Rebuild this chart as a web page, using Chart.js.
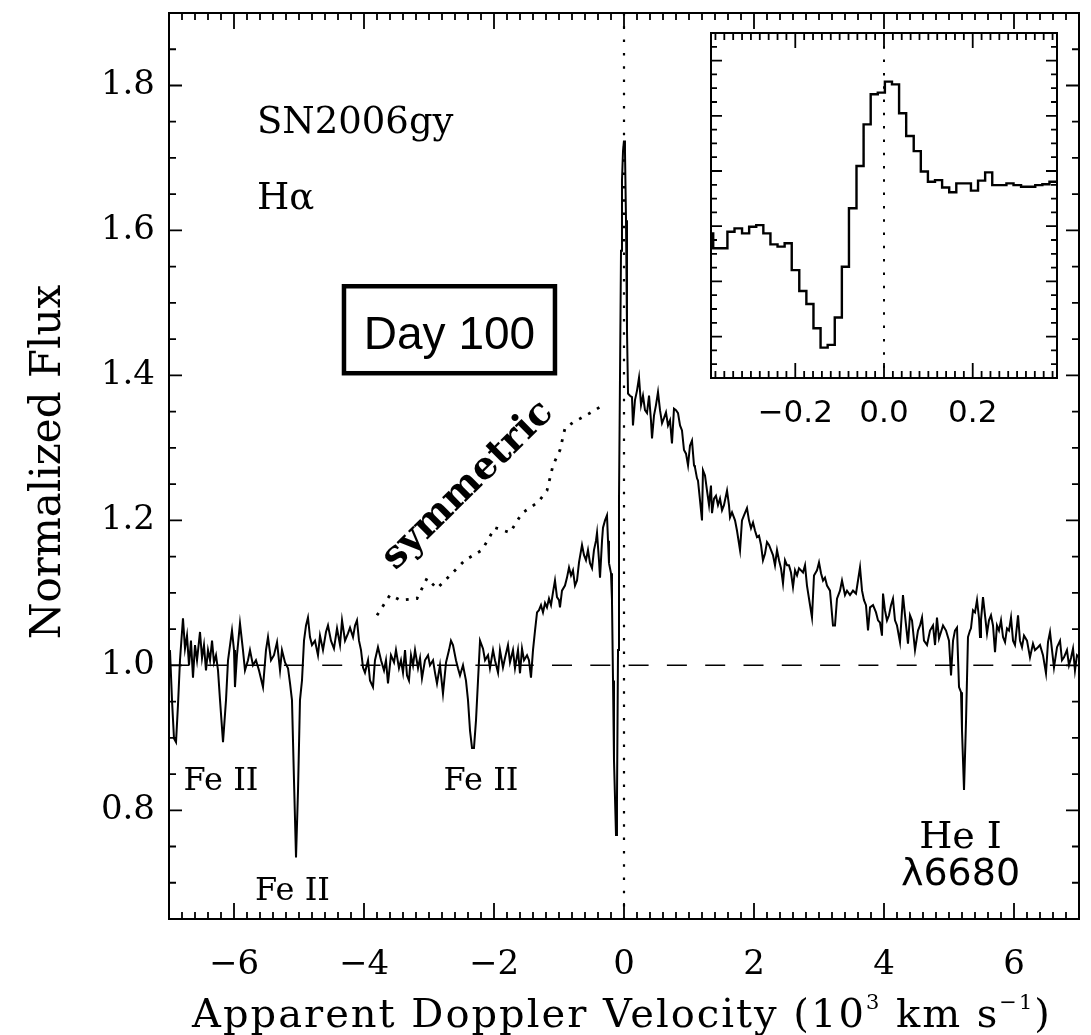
<!DOCTYPE html>
<html>
<head>
<meta charset="utf-8">
<title>SN2006gy H-alpha, day 100</title>
<script src="https://cdn.jsdelivr.net/npm/chart.js@4.4.1/dist/chart.umd.min.js"></script>
<style>
  body { margin: 0; background: #fff; }
  #wrap { position: relative; width: 1091px; height: 1035px; }
  #main { position: absolute; left: 0; top: 0; }
  #inset { position: absolute; left: 690px; top: 20px; }
</style>
</head>
<body>
<div id="wrap">
  <canvas id="main" width="1091" height="1035"></canvas>
  <canvas id="inset" width="380" height="420"></canvas>
</div>
<script>
// === Data ===
// main spectrum: velocity in 10^3 km/s, normalized flux
const velocity = [
  -6.985,-6.954,-6.923,-6.892,-6.862,-6.831,-6.785,-6.754,-6.723,-6.692,
  -6.662,-6.631,-6.600,-6.569,-6.523,-6.492,-6.462,-6.431,-6.400,-6.369,
  -6.338,-6.308,-6.277,-6.246,-6.215,-6.169,-6.123,-6.092,-6.031,-6.000,
  -5.985,-5.954,-5.908,-5.862,-5.831,-5.785,-5.754,-5.708,-5.662,-5.615,
  -5.554,-5.508,-5.477,-5.431,-5.385,-5.338,-5.292,-5.262,-5.215,-5.169,
  -5.138,-5.108,-5.077,-5.046,-5.015,-4.985,-4.954,-4.923,-4.892,-4.862,
  -4.831,-4.800,-4.754,-4.708,-4.677,-4.631,-4.585,-4.554,-4.508,-4.462,
  -4.415,-4.369,-4.338,-4.292,-4.246,-4.215,-4.169,-4.138,-4.108,-4.077,
  -4.046,-4.015,
  -3.985,-3.938,-3.908,-3.862,-3.831,-3.785,-3.738,-3.692,-3.662,-3.631,
  -3.585,-3.538,-3.508,-3.462,-3.431,-3.400,-3.369,-3.338,-3.308,-3.277,
  -3.246,-3.215,-3.169,-3.138,-3.108,-3.062,-3.015,-2.985,-2.938,-2.908,
  -2.877,-2.831,-2.785,-2.738,-2.692,-2.662,-2.631,-2.585,-2.554,-2.523,
  -2.477,-2.431,-2.400,-2.369,-2.338,-2.308,-2.277,-2.246,-2.215,-2.169,
  -2.138,-2.092,-2.062,-2.015,-1.985,-1.938,-1.908,-1.862,-1.831,-1.785,
  -1.754,-1.708,-1.677,-1.631,-1.600,-1.569,-1.538,-1.492,-1.462,-1.431,
  -1.400,-1.369,-1.338,
  -1.308,-1.277,-1.246,-1.215,-1.185,-1.154,-1.123,-1.092,-1.062,-1.031,
  -1.000,-0.985,-0.954,-0.908,-0.877,-0.846,-0.815,-0.785,-0.754,-0.723,
  -0.692,-0.646,-0.615,-0.585,-0.554,-0.523,-0.492,-0.462,-0.431,-0.415,
  -0.385,-0.369,-0.338,-0.323,-0.292,-0.262,-0.246,-0.231,-0.200,-0.185,
  -0.169,-0.154,-0.123,
  -0.108,-0.092,-0.077,-0.062,-0.046,-0.031,-0.015,0.000,0.015,0.031,
  0.046,0.062,0.092,0.123,0.138,0.169,0.200,0.231,0.262,0.292,
  0.323,0.354,0.385,0.415,0.431,0.462,0.492,0.523,0.554,0.585,
  0.615,0.646,0.677,0.708,0.738,0.769,0.800,0.831,0.862,0.892,
  0.923,0.954,0.985,1.015,1.046,1.077,1.092,1.123,1.138,1.169,
  1.200,1.215,1.246,1.277,1.308,1.338,1.354,1.385,1.415,1.446,
  1.477,1.508,1.538,1.585,1.615,1.631,1.662,1.708,1.738,1.785,
  1.815,1.846,1.892,1.923,1.954,1.985,2.015,2.046,2.077,2.108,
  2.138,2.169,2.200,2.231,2.262,2.292,2.323,2.354,2.385,2.415,
  2.446,2.477,2.508,2.538,2.569,2.600,2.631,2.662,2.692,2.723,
  2.754,2.785,2.815,2.862,2.892,2.923,2.969,3.000,3.031,3.062,
  3.092,3.123,3.169,3.215,3.246,3.277,3.323,3.354,3.400,3.431,
  3.477,3.523,3.569,3.600,3.631,3.662,3.692,3.723,3.754,3.785,
  3.831,3.877,3.908,3.938,3.969,3.985,4.015,4.046,4.077,4.108,
  4.138,4.169,4.200,4.246,4.292,4.323,4.369,4.400,4.431,4.477,
  4.523,4.554,4.585,4.615,4.662,4.708,4.754,4.785,4.815,4.846,
  4.877,4.908,4.954,5.000,5.031,5.062,5.092,5.123,5.154,5.185,
  5.200,5.231,5.262,5.292,5.323,5.338,5.369,5.400,5.431,5.462,
  5.477,5.492,5.523,5.554,5.585,5.615,5.646,5.677,5.708,5.738,
  5.769,5.800,5.831,5.862,5.892,5.923,5.954,5.985,6.015,6.062,
  6.092,6.123,6.154,6.200,6.246,6.292,6.323,6.369,6.400,6.446,
  6.492,6.523,6.554,6.585,6.615,6.662,6.708,6.738,6.769,6.815,
  6.846,6.877,6.908,6.938,6.969,7.000
];
const flux = [
  1.021,0.952,0.899,0.894,0.945,1.007,1.065,1.023,1.041,1.000,
  1.034,0.983,1.028,1.007,1.046,1.010,1.028,0.993,1.021,1.007,
  1.034,1.004,1.014,0.993,0.952,0.894,0.952,1.007,1.048,1.021,
  0.970,1.014,1.058,1.021,0.993,1.007,1.021,1.000,1.007,0.993,
  0.970,1.021,1.039,1.007,1.014,1.032,0.993,1.021,1.004,0.996,
  0.975,0.952,0.841,0.735,0.828,0.952,0.979,1.034,1.055,1.066,
  1.039,1.028,1.034,1.014,1.041,1.021,1.046,1.055,1.034,1.023,
  1.051,1.028,1.062,1.034,1.044,1.052,1.039,1.055,1.062,1.034,
  1.021,0.997,
  0.990,1.007,0.979,0.970,1.007,1.025,1.007,0.993,1.007,0.975,
  1.014,1.004,1.021,0.996,1.007,0.990,1.021,0.986,0.979,1.014,
  1.000,1.021,0.996,1.010,0.982,1.007,1.014,1.000,1.007,0.990,
  0.975,1.000,0.961,1.004,1.021,1.034,1.028,1.007,0.996,0.986,
  1.000,0.979,0.952,0.910,0.886,0.886,0.924,0.979,1.034,1.023,
  1.007,1.014,0.996,1.021,1.007,0.990,1.021,0.997,1.010,1.028,
  1.004,1.021,0.996,1.021,0.989,1.023,1.007,1.014,1.007,0.983,
  1.021,1.048,1.073,
  1.076,1.083,1.073,1.086,1.080,1.092,1.083,1.101,1.117,1.094,
  1.090,1.080,1.103,1.110,1.121,1.135,1.124,1.131,1.110,1.117,
  1.142,1.166,1.152,1.145,1.159,1.141,1.134,1.159,1.172,1.183,
  1.145,1.121,1.172,1.190,1.200,1.207,1.172,1.141,1.127,1.090,
  0.979,0.869,0.766,
  0.814,1.021,1.228,1.393,1.572,1.669,1.710,1.724,1.710,1.614,
  1.462,1.375,1.372,1.370,1.331,1.366,1.379,1.397,1.359,1.372,
  1.352,1.348,1.372,1.338,1.313,1.345,1.359,1.377,1.352,1.334,
  1.341,1.349,1.331,1.338,1.306,1.354,1.352,1.348,1.331,1.324,
  1.297,1.292,1.276,1.303,1.310,1.276,1.273,1.258,1.255,1.228,
  1.200,1.269,1.262,1.241,1.221,1.248,1.210,1.230,1.234,1.221,
  1.230,1.214,1.221,1.241,1.221,1.204,1.211,1.200,1.186,1.159,
  1.200,1.207,1.217,1.200,1.189,1.197,1.186,1.177,1.179,1.166,
  1.145,1.154,1.170,1.166,1.159,1.152,1.138,1.159,1.145,1.134,
  1.113,1.145,1.138,1.138,1.128,1.108,1.131,1.124,1.134,1.131,
  1.128,1.138,1.110,1.083,1.066,1.124,1.131,1.142,1.127,1.117,
  1.121,1.110,1.103,1.055,1.055,1.092,1.103,1.117,1.097,1.103,
  1.097,1.103,1.099,1.117,1.135,1.103,1.090,1.083,1.048,1.080,
  1.083,1.073,1.062,1.059,1.041,1.099,1.076,1.062,1.069,1.083,
  1.092,1.062,1.055,1.032,1.097,1.069,1.030,1.069,1.062,1.021,
  1.048,1.055,1.066,1.034,1.028,1.048,1.055,1.028,1.066,1.037,
  1.046,1.055,1.048,1.034,0.986,1.034,1.048,1.052,0.970,0.963,
  0.910,0.828,0.924,1.039,1.048,1.051,1.076,1.073,1.090,1.065,
  1.039,1.062,1.094,1.069,1.044,1.062,1.069,1.055,1.018,1.055,
  1.048,1.062,1.039,1.032,1.051,1.048,1.066,1.034,1.028,1.069,
  1.034,1.025,1.041,1.034,1.011,1.030,1.021,1.025,1.028,1.014,
  0.989,1.032,1.046,1.021,0.997,1.025,1.034,1.007,1.011,1.021,
  1.000,1.010,1.023,0.993,1.014,1.011
];

// red wing mirrored onto the blue side ("symmetric", dotted)
const symVelocity = [-3.800,-3.600,-3.446,-3.185,-3.031,-2.877,-2.677,-2.446,-2.185,-1.985,
                     -1.754,-1.569,-1.323,-1.185,-1.092,-0.985,-0.908,-0.785,-0.523,-0.323];
const symFlux = [1.069,1.097,1.090,1.092,1.120,1.106,1.124,1.145,1.159,1.190,
                 1.183,1.210,1.225,1.241,1.276,1.297,1.327,1.335,1.348,1.359];

// inset: binned narrow P-Cygni profile, bin left edges + last right edge
const insetEdges = [-0.390,
  -0.385,-0.369,-0.353,-0.337,-0.320,-0.304,-0.288,-0.272,-0.256,-0.240,
  -0.224,-0.208,-0.191,-0.175,-0.159,-0.143,-0.127,-0.111,-0.095,-0.079,
  -0.062,-0.046,-0.030,-0.014,0.002,0.018,0.034,0.050,0.067,0.083,
  0.099,0.115,0.131,0.147,0.163,0.180,0.196,0.212,0.228,0.244,
  0.260,0.276,0.292,0.309,0.325,0.341,0.357,0.373,0.389];
const insetFlux = [1.174,
  1.120,1.120,1.180,1.192,1.174,1.198,1.204,1.174,1.134,1.126,
  1.138,1.041,0.965,0.918,0.830,0.760,0.770,0.869,1.053,1.265,
  1.418,1.569,1.678,1.684,1.724,1.714,1.609,1.527,1.472,1.398,
  1.361,1.367,1.340,1.323,1.355,1.355,1.329,1.365,1.395,1.349,
  1.349,1.355,1.349,1.343,1.343,1.349,1.352,1.361];

// tick labels
const velocityTicks = [-6, -4, -2, 0, 2, 4, 6];
const fluxTicks = [0.8, 1.0, 1.2, 1.4, 1.6, 1.8];
const insetTicks = [-0.2, 0.0, 0.2];

// === Helpers ===
const SERIF = '"DejaVu Serif", serif';
const SANS = '"DejaVu Sans", sans-serif';
Chart.defaults.color = '#000';
Chart.defaults.font.family = SERIF;

function fmt(v, digits) {
  const s = Math.abs(v).toFixed(digits);
  return (v < -1e-9 ? '\u2212' : '') + s;
}

function pairs(xs, ys) {
  const n = Math.min(xs.length, ys.length);
  const out = [];
  for (let i = 0; i < n; i++) out.push({ x: xs[i], y: ys[i] });
  return out;
}

function eachTick(min, max, step, every, fn) {
  const k0 = Math.ceil(min / step - 1e-6), k1 = Math.floor(max / step + 1e-6);
  for (let k = k0; k <= k1; k++) fn(k * step, k % every === 0);
}

// === Frame with inward ticks on all four sides (IDL style) ===
const axisBox = {
  id: 'axisBox',
  afterDatasetsDraw(chart, args, o) {
    const { ctx, chartArea: a, scales: { x, y } } = chart;
    ctx.save();
    ctx.strokeStyle = '#000';
    ctx.lineWidth = o.tickWidth;
    ctx.beginPath();
    eachTick(x.min, x.max, o.xMinor, o.xEvery, (v, major) => {
      const p = x.getPixelForValue(v), len = major ? o.xMajorLen : o.xMinorLen;
      ctx.moveTo(p, a.bottom); ctx.lineTo(p, a.bottom - len);
      ctx.moveTo(p, a.top); ctx.lineTo(p, a.top + len);
    });
    eachTick(y.min, y.max, o.yMinor, o.yEvery, (v, major) => {
      const p = y.getPixelForValue(v), len = major ? o.yMajorLen : o.yMinorLen;
      ctx.moveTo(a.left, p); ctx.lineTo(a.left + len, p);
      ctx.moveTo(a.right, p); ctx.lineTo(a.right - len, p);
    });
    ctx.stroke();
    ctx.lineWidth = o.frameWidth;
    ctx.strokeRect(a.left, a.top, a.right - a.left, a.bottom - a.top);
    ctx.restore();
  }
};

// === Text annotations for the main panel ===
const notes = [
  { text: 'SN2006gy', x: -5.646, y: 1.735, font: '37px ' + SERIF, align: 'left' },
  { text: 'H\u03B1', x: -5.646, y: 1.630, font: '37px ' + SERIF, align: 'left' },
  { text: 'Fe II', x: -6.2, y: 0.828, font: '32px ' + SERIF, align: 'center' },
  { text: 'Fe II', x: -5.1, y: 0.676, font: '32px ' + SERIF, align: 'center' },
  { text: 'Fe II', x: -2.2, y: 0.828, font: '32px ' + SERIF, align: 'center' },
  { text: 'He I', x: 5.177, y: 0.748, font: '38px ' + SERIF, align: 'center' },
  { text: '\u03BB6680', x: 5.177, y: 0.697, font: '38px ' + SANS, align: 'center' }
];
const dayBox = { x0: -4.308, x1: -1.062, y0: 1.403, y1: 1.523, textY: 1.437, text: 'Day 100' };
const symLabel = { text: 'symmetric', x: -2.4, y: 1.248, angle: -44.6 };

const annotate = {
  id: 'annotate',
  afterDraw(chart) {
    const { ctx, scales: { x, y }, chartArea: a } = chart;
    const X = v => x.getPixelForValue(v), Y = v => y.getPixelForValue(v);
    ctx.save();
    ctx.fillStyle = '#000';
    ctx.strokeStyle = '#000';
    ctx.textBaseline = 'alphabetic';

    notes.forEach(n => {
      ctx.font = n.font;
      ctx.textAlign = n.align;
      ctx.fillText(n.text, X(n.x), Y(n.y));
    });

    // boxed epoch label
    ctx.lineWidth = 4.5;
    ctx.strokeRect(X(dayBox.x0), Y(dayBox.y1), X(dayBox.x1) - X(dayBox.x0), Y(dayBox.y0) - Y(dayBox.y1));
    ctx.font = '46px "Liberation Sans", sans-serif';
    ctx.textAlign = 'center';
    ctx.fillText(dayBox.text, (X(dayBox.x0) + X(dayBox.x1)) / 2, Y(dayBox.textY));

    // rotated "symmetric"
    ctx.save();
    ctx.translate(X(symLabel.x), Y(symLabel.y));
    ctx.rotate(symLabel.angle * Math.PI / 180);
    ctx.font = 'bold 38px ' + SERIF;
    ctx.textAlign = 'center';
    ctx.textBaseline = 'middle';
    ctx.fillText(symLabel.text, 0, 0);
    ctx.restore();

    // y title
    ctx.save();
    ctx.translate(49, (a.top + a.bottom) / 2 - 4);
    ctx.rotate(-Math.PI / 2);
    ctx.font = '42px ' + SERIF;
    ctx.textAlign = 'center';
    ctx.textBaseline = 'middle';
    ctx.fillText('Normalized Flux', 0, 0);
    ctx.restore();

    // x title with superscripts
    const parts = [
      ['Apparent Doppler Velocity (10', false], ['3', true], [' km s', false],
      ['\u22121', true], [')', false]
    ];
    const big = '40px ' + SERIF, small = '21px ' + SERIF;
    ctx.letterSpacing = '2px';
    let total = 0;
    const widths = parts.map(([t, sup]) => {
      ctx.font = sup ? small : big;
      const w = ctx.measureText(t).width;
      total += w;
      return w;
    });
    let cx = 622 - total / 2;
    const base = 1027;
    ctx.textAlign = 'left';
    parts.forEach(([t, sup], i) => {
      ctx.font = sup ? small : big;
      ctx.fillText(t, cx, sup ? base - 18 : base);
      cx += widths[i];
    });
    ctx.restore();
  }
};

// === Main panel ===
const lineStyle = { borderColor: '#000', pointRadius: 0, fill: false, tension: 0 };

new Chart(document.getElementById('main'), {
  type: 'line',
  data: {
    datasets: [
      { ...lineStyle, data: pairs(velocity, flux), borderWidth: 2 },
      { ...lineStyle, data: [{ x: -7, y: 1 }, { x: 7, y: 1 }], borderWidth: 1.5, borderDash: [20, 18.3] },
      { ...lineStyle, data: [{ x: 0, y: 1.9 }, { x: 0, y: 0.65 }], borderWidth: 2.2, borderDash: [2.5, 10.8] },
      { ...lineStyle, data: pairs(symVelocity, symFlux), borderWidth: 2.8, borderDash: [2.8, 7.5] }
    ]
  },
  options: {
    responsive: false,
    animation: false,
    events: [],
    layout: { padding: { top: 13, right: 12, left: 0, bottom: 0 } },
    plugins: {
      legend: { display: false },
      tooltip: { enabled: false },
      axisBox: { frameWidth: 2, tickWidth: 1.8, xMinor: 0.2, xEvery: 10, xMajorLen: 16, xMinorLen: 7,
                 yMinor: 0.05, yEvery: 4, yMajorLen: 13, yMinorLen: 7 }
    },
    scales: {
      x: {
        type: 'linear', min: -7, max: 7,
        grid: { display: false, drawTicks: false }, border: { display: false },
        afterBuildTicks: s => { s.ticks = velocityTicks.map(v => ({ value: v })); },
        afterFit: s => { s.height = 116; s.paddingLeft = 0; s.paddingRight = 0; },
        ticks: { padding: 26, maxRotation: 0, autoSkip: false, font: { family: SERIF, size: 34 },
                 callback: v => fmt(v, 0) }
      },
      y: {
        type: 'linear', min: 0.65, max: 1.9,
        grid: { display: false, drawTicks: false }, border: { display: false },
        afterBuildTicks: s => { s.ticks = fluxTicks.map(v => ({ value: v })); },
        afterFit: s => { s.width = 169; s.paddingTop = 0; s.paddingBottom = 0; },
        ticks: { padding: 14, autoSkip: false, font: { family: SERIF, size: 34 },
                 callback: v => fmt(v, 1) }
      }
    }
  },
  plugins: [axisBox, annotate]
});

// === Inset: binned core of the line ===
const insetPts = pairs(insetEdges, insetFlux);
insetPts.push({ x: insetEdges[insetEdges.length - 1], y: insetFlux[insetFlux.length - 1] });

new Chart(document.getElementById('inset'), {
  type: 'line',
  data: {
    datasets: [
      { ...lineStyle, data: insetPts, borderWidth: 2.4, stepped: 'before' },
      { ...lineStyle, data: [{ x: 0, y: 1.9 }, { x: 0, y: 0.65 }], borderWidth: 2, borderDash: [2.5, 10.8] }
    ]
  },
  options: {
    responsive: false,
    animation: false,
    events: [],
    layout: { padding: { top: 13, right: 13, left: 21, bottom: 0 } },
    plugins: {
      legend: { display: false },
      tooltip: { enabled: false },
      axisBox: { frameWidth: 2, tickWidth: 1.8, xMinor: 0.02, xEvery: 10, xMajorLen: 15, xMinorLen: 7,
                 yMinor: 0.05, yEvery: 4, yMajorLen: 11, yMinorLen: 6 }
    },
    scales: {
      x: {
        type: 'linear', min: -0.39, max: 0.39,
        grid: { display: false, drawTicks: false }, border: { display: false },
        afterBuildTicks: s => { s.ticks = insetTicks.map(v => ({ value: v })); },
        afterFit: s => { s.height = 62; s.paddingLeft = 0; s.paddingRight = 0; },
        ticks: { padding: 17, maxRotation: 0, autoSkip: false, font: { family: SANS, size: 31 },
                 callback: v => fmt(v, 1) }
      },
      y: { type: 'linear', min: 0.65, max: 1.9, display: false }
    }
  },
  plugins: [axisBox]
});
</script>
</body>
</html>
